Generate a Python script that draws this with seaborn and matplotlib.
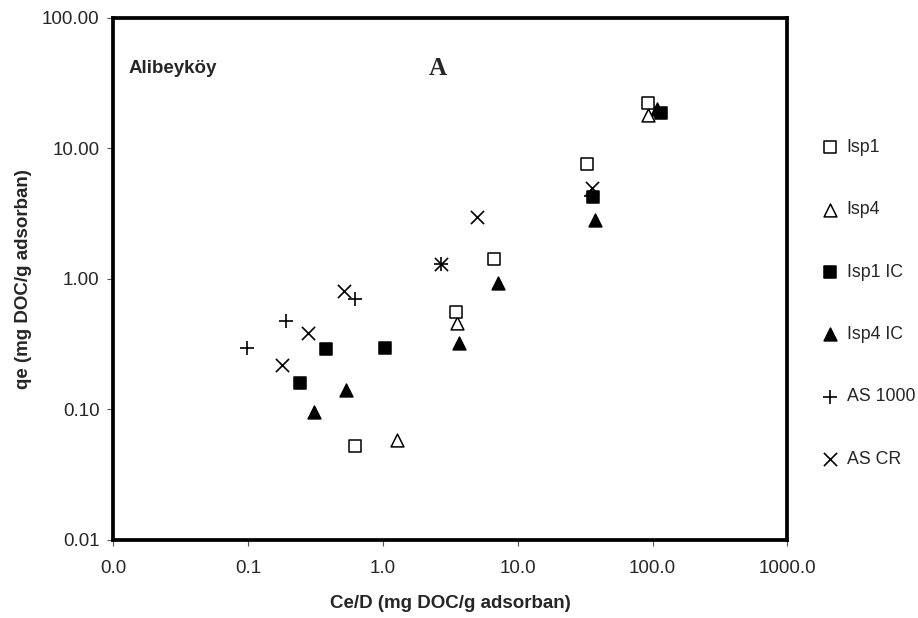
import matplotlib
matplotlib.use("Agg")
import matplotlib.pyplot as plt
import matplotlib.ticker as mticker
import seaborn as sns
import pandas as pd

sns.set_theme(style="white")
plt.rcParams['font.family'] = ['Liberation Sans', 'DejaVu Sans']

# ---- data (Ce/D, qe) ----
isp1_x = [0.616, 3.46, 6.62, 32.7, 92.6]
isp1_y = [0.0529, 0.559, 1.41, 7.55, 22.4]

isp4_x = [1.28, 3.56, 93.1]
isp4_y = [0.058, 0.463, 18.0]

isp1ic_x = [0.242, 0.378, 1.04, 36.0, 115.0]
isp1ic_y = [0.159, 0.291, 0.296, 4.27, 18.6]

isp4ic_x = [0.306, 0.531, 3.69, 7.13, 37.4, 108.6]
isp4ic_y = [0.095, 0.14, 0.325, 0.927, 2.83, 19.9]

as1000_x = [0.098, 0.19, 0.62, 2.69, 35.0]
as1000_y = [0.298, 0.474, 0.707, 1.30, 4.3]

ascr_x = [0.179, 0.276, 0.514, 2.69, 5.01, 35.4]
ascr_y = [0.219, 0.388, 0.814, 1.30, 3.0, 4.95]

series_names = ["Isp1", "Isp4", "Isp1 IC", "Isp4 IC", "AS 1000", "AS CR"]
y_ticks = [0.01, 0.1, 1, 10, 100]
x_ticks = [0.01, 0.1, 1, 10, 100, 1000]

fig = plt.figure(figsize=(9.18, 6.18), dpi=100)
L, R, T, B = 113.3, 787.3, 17.7, 540.0
ax = fig.add_axes([L/918, 1-B/618, (R-L)/918, (B-T)/618])

styles = [
    (isp1_x, isp1_y, dict(marker='s', s=70, facecolor='white', edgecolor='black', linewidth=1.1)),
    (isp4_x, isp4_y, dict(marker='^', s=85, facecolor='white', edgecolor='black', linewidth=1.1)),
    (isp1ic_x, isp1ic_y, dict(marker='s', s=70, facecolor='black', edgecolor='black', linewidth=1.1)),
    (isp4ic_x, isp4ic_y, dict(marker='^', s=85, facecolor='black', edgecolor='black', linewidth=1.1)),
    (as1000_x, as1000_y, dict(marker='+', s=100, color='black', linewidth=1.2)),
    (ascr_x, ascr_y, dict(marker='x', s=90, color='black', linewidth=1.2)),
]

for i, (name, (xs, ys, kw)) in enumerate(zip(series_names, styles)):
    df = pd.DataFrame({"x": xs, "y": ys})
    sns.scatterplot(data=df, x="x", y="y", ax=ax, label=name, zorder=10 - i, **kw)

ax.set_xscale('log')
ax.set_yscale('log')
ax.set_xlim(0.01, 1000)
ax.set_ylim(0.01, 100)
ax.set_xticks(x_ticks)
ax.set_yticks(y_ticks)
ax.xaxis.set_major_formatter(mticker.FuncFormatter(lambda v, p: f"{v:.1f}"))
ax.yaxis.set_major_formatter(mticker.FuncFormatter(lambda v, p: f"{v:.2f}"))
ax.minorticks_off()
ax.tick_params(axis='both', which='major', direction='out', length=4, width=0.8,
               color='#555555', labelsize=13.5, bottom=True, left=True)
ax.tick_params(axis='x', pad=10.5)
ax.tick_params(axis='y', pad=6)
for sp in ax.spines.values():
    sp.set_linewidth(2.7)
    sp.set_color('black')
    sp.set_zorder(20)

ax.set_xlabel("Ce/D (mg DOC/g adsorban)", fontsize=13.5, fontweight='bold', labelpad=13)
ax.set_ylabel("qe (mg DOC/g adsorban)", fontsize=13.5, fontweight='bold', labelpad=7)

ax.text(0.0223, 0.903, "Alibeyköy", transform=ax.transAxes, fontsize=13.5,
        fontweight='bold', ha='left', va='center')
ax.text(0.481, 0.903, "A", transform=ax.transAxes, fontsize=18,
        fontweight='bold', ha='center', va='center', family='Liberation Serif')

leg = ax.legend(loc='upper left', bbox_to_anchor=(821/918, 1-139/618),
                bbox_transform=fig.transFigure, frameon=False, fontsize=12.8,
                labelspacing=2.55, handletextpad=0.44, handlelength=1.0,
                borderaxespad=0, borderpad=0)

fig.savefig("out.png", dpi=100)
